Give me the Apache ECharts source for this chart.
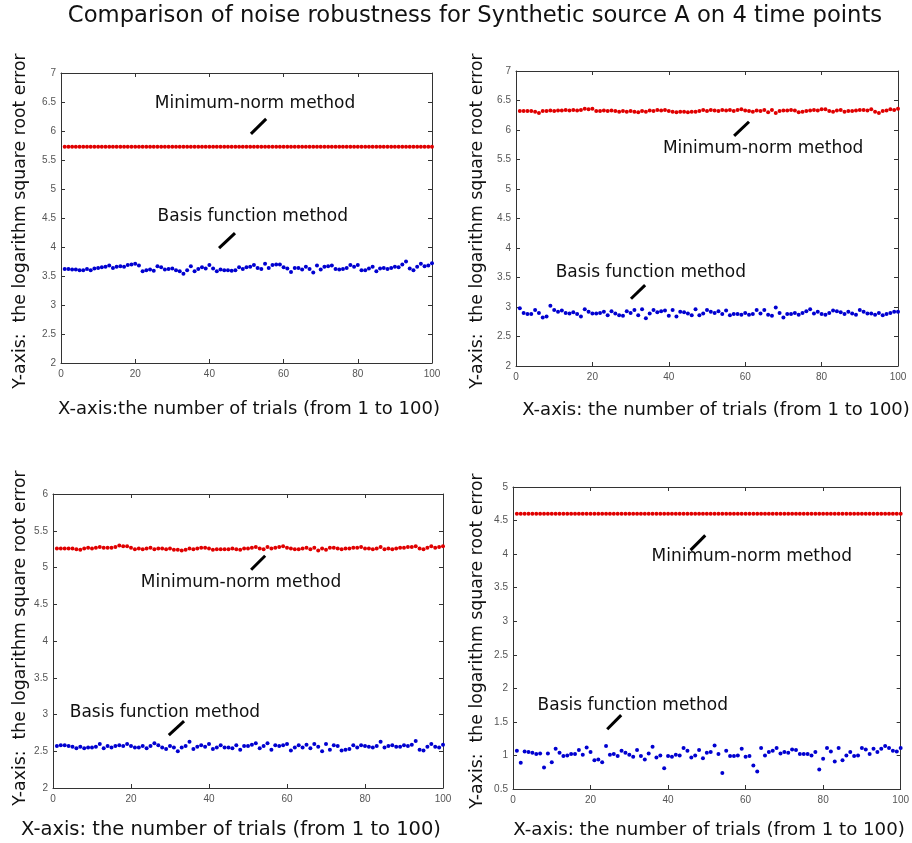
<!DOCTYPE html>
<html>
<head>
<meta charset="utf-8">
<script src="https://cdn.jsdelivr.net/npm/echarts@6/dist/echarts.min.js"></script>
<style>
  html, body { margin: 0; padding: 0; background: #fff; }
  #chart { width: 912px; height: 843px; }
</style>
</head>
<body>
<div id="chart"></div>
<script>
// Trial numbers 1..100 shared by every panel
const trials = Array.from({ length: 100 }, (_, i) => i + 1);

const xTicks = { min: 0, max: 100, interval: 20 };

// Panel 1 (top-left)
const p1MinNorm = [
  5.73,5.73,5.73,5.73,5.73,5.73,5.73,5.73,5.73,5.73,
  5.73,5.73,5.73,5.73,5.73,5.73,5.73,5.73,5.73,5.73,
  5.73,5.73,5.73,5.73,5.73,5.73,5.73,5.73,5.73,5.73,
  5.73,5.73,5.73,5.73,5.73,5.73,5.73,5.73,5.73,5.73,
  5.73,5.73,5.73,5.73,5.73,5.73,5.73,5.73,5.73,5.73,
  5.73,5.73,5.73,5.73,5.73,5.73,5.73,5.73,5.73,5.73,
  5.73,5.73,5.73,5.73,5.73,5.73,5.73,5.73,5.73,5.73,
  5.73,5.73,5.73,5.73,5.73,5.73,5.73,5.73,5.73,5.73,
  5.73,5.73,5.73,5.73,5.73,5.73,5.73,5.73,5.73,5.73,
  5.73,5.73,5.73,5.73,5.73,5.73,5.73,5.73,5.73,5.73
];
const p1Basis = [
  3.62,3.62,3.61,3.61,3.60,3.60,3.62,3.60,3.63,3.64,
  3.65,3.66,3.68,3.64,3.66,3.67,3.66,3.69,3.70,3.71,
  3.68,3.58,3.60,3.61,3.59,3.67,3.65,3.61,3.62,3.63,
  3.60,3.58,3.54,3.60,3.67,3.58,3.62,3.65,3.63,3.69,
  3.63,3.58,3.61,3.60,3.60,3.59,3.60,3.65,3.62,3.65,
  3.66,3.69,3.64,3.62,3.71,3.64,3.69,3.70,3.70,3.65,
  3.63,3.57,3.64,3.64,3.61,3.66,3.62,3.56,3.68,3.61,
  3.66,3.67,3.68,3.62,3.61,3.62,3.64,3.69,3.66,3.69,
  3.60,3.60,3.63,3.66,3.58,3.63,3.64,3.62,3.64,3.66,
  3.65,3.70,3.75,3.63,3.60,3.66,3.71,3.67,3.68,3.72
];

// Panel 2 (top-right)
const p2MinNorm = [
  6.32,6.32,6.32,6.32,6.31,6.29,6.32,6.32,6.33,6.32,
  6.33,6.33,6.34,6.33,6.34,6.33,6.34,6.36,6.35,6.36,
  6.32,6.32,6.33,6.32,6.33,6.32,6.31,6.32,6.31,6.32,
  6.31,6.30,6.32,6.31,6.33,6.32,6.34,6.33,6.34,6.32,
  6.31,6.30,6.31,6.31,6.30,6.31,6.31,6.32,6.34,6.32,
  6.34,6.33,6.32,6.34,6.33,6.34,6.32,6.34,6.35,6.33,
  6.32,6.31,6.33,6.32,6.34,6.30,6.34,6.29,6.32,6.33,
  6.33,6.34,6.33,6.30,6.31,6.32,6.33,6.34,6.33,6.35,
  6.35,6.32,6.31,6.33,6.34,6.31,6.32,6.32,6.33,6.34,
  6.34,6.33,6.35,6.31,6.29,6.32,6.33,6.35,6.34,6.36
];
const p2Basis = [
  2.98,2.90,2.88,2.88,2.95,2.90,2.82,2.84,3.02,2.95,
  2.92,2.94,2.90,2.89,2.91,2.88,2.84,2.96,2.92,2.89,
  2.89,2.90,2.92,2.86,2.93,2.89,2.86,2.85,2.93,2.90,
  2.95,2.86,2.96,2.81,2.89,2.95,2.91,2.93,2.94,2.85,
  2.95,2.84,2.92,2.91,2.89,2.86,2.96,2.86,2.89,2.95,
  2.92,2.90,2.93,2.88,2.94,2.86,2.88,2.88,2.87,2.90,
  2.87,2.88,2.95,2.89,2.95,2.87,2.85,2.99,2.90,2.82,
  2.88,2.88,2.90,2.87,2.90,2.93,2.96,2.89,2.92,2.88,
  2.87,2.90,2.94,2.93,2.91,2.88,2.92,2.89,2.87,2.95,
  2.92,2.89,2.89,2.87,2.90,2.86,2.88,2.90,2.92,2.92
];

// Panel 3 (bottom-left)
const p3MinNorm = [
  5.26,5.26,5.26,5.26,5.26,5.25,5.24,5.26,5.27,5.26,
  5.27,5.28,5.27,5.27,5.27,5.28,5.30,5.29,5.29,5.27,
  5.25,5.26,5.25,5.26,5.27,5.25,5.26,5.26,5.25,5.26,
  5.24,5.24,5.23,5.24,5.26,5.25,5.26,5.27,5.27,5.26,
  5.24,5.25,5.25,5.25,5.25,5.26,5.25,5.24,5.26,5.26,
  5.27,5.28,5.26,5.25,5.28,5.26,5.27,5.28,5.29,5.27,
  5.26,5.25,5.25,5.26,5.27,5.25,5.27,5.23,5.26,5.24,
  5.27,5.27,5.26,5.25,5.26,5.26,5.27,5.27,5.28,5.26,
  5.26,5.25,5.26,5.28,5.25,5.26,5.25,5.26,5.27,5.27,
  5.28,5.28,5.29,5.26,5.25,5.27,5.29,5.27,5.28,5.29
];
const p3Basis = [
  2.57,2.58,2.58,2.57,2.56,2.54,2.56,2.54,2.55,2.55,
  2.56,2.60,2.54,2.57,2.55,2.57,2.58,2.57,2.60,2.57,
  2.55,2.55,2.57,2.54,2.57,2.61,2.58,2.55,2.53,2.57,
  2.55,2.50,2.55,2.57,2.63,2.53,2.56,2.58,2.56,2.60,
  2.53,2.55,2.58,2.55,2.55,2.54,2.58,2.52,2.57,2.57,
  2.59,2.61,2.54,2.57,2.61,2.52,2.58,2.57,2.58,2.60,
  2.51,2.55,2.58,2.55,2.59,2.54,2.60,2.56,2.50,2.60,
  2.52,2.58,2.57,2.51,2.52,2.53,2.58,2.55,2.58,2.57,
  2.56,2.55,2.57,2.63,2.55,2.57,2.58,2.56,2.56,2.58,
  2.57,2.59,2.64,2.52,2.51,2.56,2.60,2.56,2.55,2.59
];

// Panel 4 (bottom-right)
const p4MinNorm = [
  4.60,4.60,4.60,4.60,4.60,4.60,4.60,4.60,4.60,4.60,
  4.60,4.60,4.60,4.60,4.60,4.60,4.60,4.60,4.60,4.60,
  4.60,4.60,4.60,4.60,4.60,4.60,4.60,4.60,4.60,4.60,
  4.60,4.60,4.60,4.60,4.60,4.60,4.60,4.60,4.60,4.60,
  4.60,4.60,4.60,4.60,4.60,4.60,4.60,4.60,4.60,4.60,
  4.60,4.60,4.60,4.60,4.60,4.60,4.60,4.60,4.60,4.60,
  4.60,4.60,4.60,4.60,4.60,4.60,4.60,4.60,4.60,4.60,
  4.60,4.60,4.60,4.60,4.60,4.60,4.60,4.60,4.60,4.60,
  4.60,4.60,4.60,4.60,4.60,4.60,4.60,4.60,4.60,4.60,
  4.60,4.60,4.60,4.60,4.60,4.60,4.60,4.60,4.60,4.60
];
const p4Basis = [
  1.07,0.89,1.06,1.05,1.04,1.02,1.03,0.82,1.03,0.90,
  1.10,1.04,0.99,1.00,1.02,1.02,1.08,1.01,1.12,1.05,
  0.93,0.94,0.90,1.14,1.01,1.02,0.99,1.07,1.04,1.01,
  0.98,1.08,0.99,0.94,1.03,1.13,0.97,1.00,0.81,0.99,
  0.98,1.01,1.00,1.11,1.07,0.97,1.00,1.08,0.96,1.04,
  1.05,1.15,1.02,0.74,1.07,0.99,0.99,1.00,1.10,0.98,
  0.99,0.85,0.76,1.11,1.00,1.05,1.07,1.11,1.03,1.05,
  1.04,1.09,1.08,1.02,1.02,1.02,1.00,1.05,0.79,0.95,
  1.11,1.06,0.91,1.11,0.93,1.00,1.05,0.99,1.00,1.11,
  1.09,1.02,1.10,1.05,1.10,1.14,1.11,1.07,1.06,1.11
];

const yRanges = [
  { min: 2, max: 7, interval: 0.5 },
  { min: 2, max: 7, interval: 0.5 },
  { min: 2, max: 6, interval: 0.5 },
  { min: 0.5, max: 5, interval: 0.5 }
];

// Text annotations and pointer strokes, in data units of each panel
const annotations = [
  { minText: [52.3, 6.48], minStroke: [[51.2, 5.95], [55.3, 6.21]],
    basisText: [51.7, 4.53], basisStroke: [[42.6, 3.98], [46.9, 4.24]] },
  { minText: [64.7, 5.68], minStroke: [[57.1, 5.90], [61.0, 6.14]],
    basisText: [35.3, 3.59], basisStroke: [[30.1, 3.14], [33.8, 3.37]] },
  { minText: [48.2, 4.80], minStroke: [[50.8, 4.97], [54.4, 5.16]],
    basisText: [28.7, 3.03], basisStroke: [[29.7, 2.72], [33.6, 2.91]] },
  { minText: [61.6, 3.96], minStroke: [[45.8, 4.06], [49.6, 4.28]],
    basisText: [30.9, 1.75], basisStroke: [[24.3, 1.39], [27.9, 1.60]] }
];

const minNormSeries = [p1MinNorm, p2MinNorm, p3MinNorm, p4MinNorm];
const basisSeries = [p1Basis, p2Basis, p3Basis, p4Basis];

const grids = [
  { left: 61, top: 73, width: 371, height: 290 },
  { left: 516, top: 71, width: 382, height: 295 },
  { left: 53, top: 494, width: 390, height: 294 },
  { left: 513, top: 487, width: 391, height: 302 }
];

const AXIS_COLOR = '#333';
const TICK_FONT = { fontFamily: 'Liberation Sans', fontSize: 10, color: '#555' };
const TEXT_FONT = 'DejaVu Sans';

const xAxes = [], yAxes = [], series = [];
grids.forEach((g, i) => {
  // bottom / left axes with labels
  xAxes.push({
    type: 'value', gridIndex: i, position: 'bottom', ...xTicks,
    axisLine: { show: true, onZero: false, lineStyle: { color: AXIS_COLOR } },
    axisTick: { show: true, inside: true, length: 4, lineStyle: { color: AXIS_COLOR } },
    axisLabel: { ...TICK_FONT, margin: 6 },
    splitLine: { show: false }
  });
  // mirrored ticks on the top edge
  xAxes.push({
    type: 'value', gridIndex: i, position: 'top', ...xTicks,
    axisLine: { show: true, onZero: false, lineStyle: { color: AXIS_COLOR } },
    axisTick: { show: true, inside: true, length: 4, lineStyle: { color: AXIS_COLOR } },
    axisLabel: { show: false }, splitLine: { show: false }
  });
  yAxes.push({
    type: 'value', gridIndex: i, position: 'left', ...yRanges[i],
    axisLine: { show: true, onZero: false, lineStyle: { color: AXIS_COLOR } },
    axisTick: { show: true, inside: true, length: 4, lineStyle: { color: AXIS_COLOR } },
    axisLabel: { ...TICK_FONT, margin: 5 },
    splitLine: { show: false }
  });
  yAxes.push({
    type: 'value', gridIndex: i, position: 'right', ...yRanges[i],
    axisLine: { show: true, onZero: false, lineStyle: { color: AXIS_COLOR } },
    axisTick: { show: true, inside: true, length: 4, lineStyle: { color: AXIS_COLOR } },
    axisLabel: { show: false }, splitLine: { show: false }
  });

  const a = annotations[i];
  const textLabel = (name, coord) => ({
    coord, symbol: 'circle', symbolSize: 0,
    label: { show: true, position: 'inside', formatter: name,
      fontFamily: TEXT_FONT, fontSize: 17, color: '#111' }
  });
  const stroke = (pts) => [{ coord: pts[0] }, { coord: pts[1] }];

  series.push({
    type: 'scatter', name: 'Minimum-norm method',
    xAxisIndex: i * 2, yAxisIndex: i * 2,
    data: trials.map((t, k) => [t, minNormSeries[i][k]]),
    symbol: 'circle', symbolSize: 4,
    itemStyle: { color: '#e00000', opacity: 1 },
    markPoint: { silent: true, data: [textLabel('Minimum-norm method', a.minText)] },
    markLine: { silent: true, symbol: 'none', label: { show: false },
      lineStyle: { color: '#000', width: 3, type: 'solid' },
      data: [stroke(a.minStroke)] }
  });
  series.push({
    type: 'scatter', name: 'Basis function method',
    xAxisIndex: i * 2, yAxisIndex: i * 2,
    data: trials.map((t, k) => [t, basisSeries[i][k]]),
    symbol: 'circle', symbolSize: 4,
    itemStyle: { color: '#0000d0', opacity: 1 },
    markPoint: { silent: true, data: [textLabel('Basis function method', a.basisText)] },
    markLine: { silent: true, symbol: 'none', label: { show: false },
      lineStyle: { color: '#000', width: 3, type: 'solid' },
      data: [stroke(a.basisStroke)] }
  });
});

// Axis captions
const yCaption = 'Y-axis:  the logarithm square root error';
const xCaptions = [
  { text: 'X-axis:the number of trials (from 1 to 100)', x: 249, y: 409, size: 18 },
  { text: 'X-axis: the number of trials (from 1 to 100)', x: 716, y: 410, size: 18 },
  { text: 'X-axis: the number of trials (from 1 to 100)', x: 231, y: 830, size: 19.5 },
  { text: 'X-axis: the number of trials (from 1 to 100)', x: 709, y: 830, size: 18.2 }
];
const yCaptionPos = [
  { x: 21, y: 221 }, { x: 478, y: 221 }, { x: 21, y: 638 }, { x: 478, y: 641 }
];

const graphic = [];
xCaptions.forEach(c => graphic.push({
  type: 'text', x: c.x, y: c.y,
  style: { text: c.text, font: `${c.size}px "${TEXT_FONT}"`, fill: '#111',
    textAlign: 'center', textVerticalAlign: 'middle' }
}));
yCaptionPos.forEach(p => graphic.push({
  type: 'text', x: p.x, y: p.y, rotation: Math.PI / 2,
  style: { text: yCaption, font: `17.3px "${TEXT_FONT}"`, fill: '#111',
    textAlign: 'center', textVerticalAlign: 'middle' }
}));
graphic.push({
  type: 'text', x: 475, y: 16,
  style: { text: 'Comparison of noise robustness for Synthetic source A on 4 time points',
    font: `22.7px "${TEXT_FONT}"`, fill: '#111', textAlign: 'center', textVerticalAlign: 'middle' }
});

const chart = echarts.init(document.getElementById('chart'), null, { renderer: 'canvas' });
chart.setOption({
  animation: false,
  backgroundColor: '#fff',
  grid: grids.map(g => ({ ...g, containLabel: false })),
  xAxis: xAxes,
  yAxis: yAxes,
  series,
  graphic
});
</script>
</body>
</html>
